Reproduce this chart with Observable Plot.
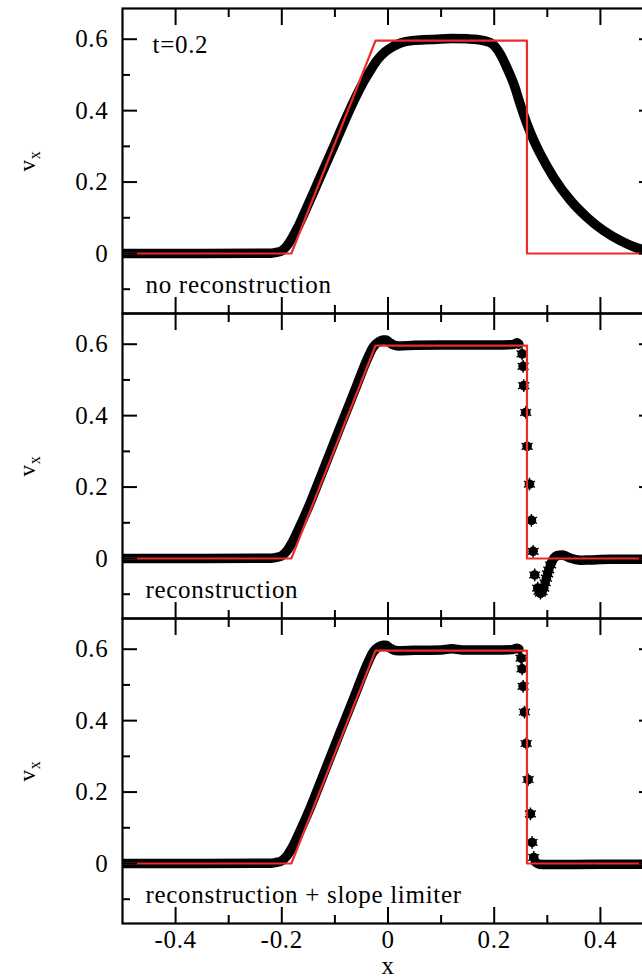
<!DOCTYPE html>
<html>
<head>
<meta charset="utf-8">
<script src="https://cdn.jsdelivr.net/npm/d3@7"></script>
<script src="https://cdn.jsdelivr.net/npm/@observablehq/plot@0.6"></script>
<style>
  html, body { margin: 0; padding: 0; background: #fff; overflow: hidden; }
  #chart { position: relative; width: 642px; height: 977px; overflow: hidden; background: #fff; }
  #chart svg { position: absolute; left: 0; }
  #chart svg text { font-family: "Liberation Serif", "Times New Roman", Times, serif; letter-spacing: 0.7px; }
</style>
</head>
<body>
<div id="chart"></div>
<script>
// Axis ticks
const xMajor = [-0.4, -0.2, 0, 0.2, 0.4];
const xMinor = [-0.3, -0.1, 0.1, 0.3];
const yMajor = [0, 0.2, 0.4, 0.6];
const yMinor = [-0.1, 0.1, 0.3, 0.5];

// Panel captions
const panelLabels = ["no reconstruction", "reconstruction", "reconstruction + slope limiter"];
const timeLabel = "t=0.2";

// Exact solution (red)
const exactX = [-0.5, -0.182, -0.0235, 0.2617, 0.2617, 0.5];
const exactV = [0, 0, 0.596, 0.596, 0, 0];

// No reconstruction: densely packed particles
const noReconX = [-0.5, -0.35, -0.22, -0.21, -0.2, -0.19, -0.18, -0.17, -0.16, -0.14, -0.12, -0.1, -0.08, -0.065, -0.05, -0.035, -0.02, -0.005, 0.01, 0.025, 0.045, 0.08, 0.12, 0.15, 0.168, 0.193, 0.212, 0.224, 0.237, 0.249, 0.262, 0.275, 0.287, 0.312, 0.344, 0.375, 0.406, 0.438, 0.475, 0.5];
const noReconV = [0, 0, 0.001, 0.003, 0.008, 0.022, 0.045, 0.073, 0.105, 0.172, 0.24, 0.307, 0.376, 0.425, 0.47, 0.508, 0.542, 0.565, 0.58, 0.59, 0.596, 0.599, 0.602, 0.601, 0.599, 0.59, 0.557, 0.52, 0.474, 0.418, 0.362, 0.315, 0.278, 0.213, 0.148, 0.101, 0.064, 0.036, 0.013, 0.006];

// Reconstruction
const reconX = [-0.5, -0.35, -0.22, -0.21, -0.2, -0.19, -0.18, -0.17, -0.15, -0.12, -0.09, -0.06, -0.04, -0.028, -0.018, -0.01, -0.004, 0.002, 0.01, 0.02, 0.05, 0.1, 0.15, 0.2, 0.235, 0.243, 0.2465];
const reconV = [0, 0, 0.001, 0.003, 0.008, 0.022, 0.046, 0.077, 0.143, 0.255, 0.368, 0.48, 0.555, 0.592, 0.606, 0.612, 0.612, 0.606, 0.598, 0.595, 0.597, 0.598, 0.598, 0.598, 0.599, 0.604, 0.6];
const reconShockX = [0.2526, 0.2545, 0.2556, 0.2594, 0.262, 0.2664, 0.2701, 0.2733, 0.2763, 0.282, 0.2845, 0.2871, 0.29, 0.2933, 0.296, 0.2984, 0.3005, 0.3027, 0.306];
const reconShockV = [0.573, 0.538, 0.484, 0.409, 0.314, 0.208, 0.107, 0.02, -0.046, -0.083, -0.092, -0.097, -0.093, -0.083, -0.068, -0.055, -0.043, -0.032, -0.018];
const reconTailX = [0.306, 0.309, 0.313, 0.3185, 0.328, 0.336, 0.3435, 0.362, 0.38, 0.42, 0.5];
const reconTailV = [-0.018, -0.008, 0.002, 0.008, 0.01, 0.006, 0.001, -0.005, -0.004, -0.002, -0.002];

// Reconstruction + slope limiter
const limX = [-0.5, -0.35, -0.22, -0.21, -0.2, -0.19, -0.18, -0.17, -0.15, -0.12, -0.09, -0.06, -0.04, -0.028, -0.018, -0.01, -0.004, 0.002, 0.01, 0.02, 0.05, 0.1, 0.12, 0.14, 0.2, 0.235, 0.243, 0.2465];
const limV = [0, 0, 0.001, 0.003, 0.008, 0.022, 0.046, 0.077, 0.143, 0.255, 0.368, 0.48, 0.555, 0.592, 0.606, 0.611, 0.611, 0.605, 0.598, 0.596, 0.597, 0.598, 0.601, 0.598, 0.598, 0.599, 0.603, 0.6];
const limShockX = [0.2507, 0.2526, 0.2545, 0.257, 0.2602, 0.2639, 0.2682, 0.2714, 0.2745];
const limShockV = [0.575, 0.545, 0.496, 0.424, 0.336, 0.235, 0.139, 0.059, 0.017];
const limTailX = [0.2776, 0.285, 0.3, 0.4, 0.5];
const limTailV = [0.004, -0.002, -0.003, -0.002, -0.002];

const zip = (xs, vs) => xs.map((x, i) => ({x, v: vs[i]}));
const exact = zip(exactX, exactV);

const FONT = "'Liberation Serif', 'Times New Roman', Times, serif";
const ML = 122, MR = 7, MT = 20, FRAME_H = 305, FRAME_TOP = 7.5;
const WIDTH = 660;

function panel({runs, cells, label, index, showTime, showX}) {
  const mb = showX ? 60 : 20;
  const marks = [];
  for (const run of runs) {
    marks.push(Plot.line(run, {x: "x", y: "v", stroke: "#000", strokeWidth: 9.5,
      strokeLinecap: "round", strokeLinejoin: "round", curve: "monotone-x", clip: true}));
  }
  if (cells.length) {
    marks.push(Plot.dot(cells, {x: "x", y: "v", r: 4.8, fill: "#000", symbol: "circle"}));
    marks.push(Plot.dot(cells, {x: "x", y: "v", r: 6, stroke: "#000", strokeWidth: 1.4, symbol: "asterisk"}));
  }
  marks.push(Plot.line(exact, {x: "x", y: "v", stroke: "#ec2b2b", strokeWidth: 2.2, clip: true}));

  // inward ticks on all four sides
  for (const anchor of ["top", "bottom"]) {
    marks.push(Plot.axisX(xMajor, {anchor, tickSize: -16, strokeWidth: 2, fill: "none", label: null}));
    marks.push(Plot.axisX(xMinor, {anchor, tickSize: -8, strokeWidth: 2, fill: "none", label: null}));
  }
  for (const anchor of ["left", "right"]) {
    marks.push(Plot.axisY(yMajor, {anchor, tickSize: -15, strokeWidth: 2, fill: "none", label: null}));
    marks.push(Plot.axisY(yMinor, {anchor, tickSize: -8, strokeWidth: 2, fill: "none", label: null}));
  }
  marks.push(Plot.axisY(yMajor, {anchor: "left", tickSize: 0, tickPadding: 14,
    tickFormat: d => String(d), label: null, fontSize: 25}));
  if (showX) {
    marks.push(Plot.axisX(xMajor, {anchor: "bottom", tickSize: 0, tickPadding: 7,
      tickFormat: d => String(d), label: null, fontSize: 25}));
    marks.push(Plot.text(["x"], {text: d => d, frameAnchor: "bottom", dy: 50,
      lineAnchor: "bottom", fontSize: 25}));
  }
  marks.push(Plot.text(["vx"], {text: d => d, frameAnchor: "left", dx: -95, rotate: -90,
    textAnchor: "middle", lineAnchor: "middle", fontSize: 23}));
  if (showTime) {
    marks.push(Plot.text([timeLabel], {text: d => d, frameAnchor: "top-left", dx: 30, dy: 44.5,
      textAnchor: "start", lineAnchor: "bottom", fontSize: 25}));
  }
  marks.push(Plot.text([label], {text: d => d, frameAnchor: "bottom-left", dx: 23, dy: -21,
    textAnchor: "start", lineAnchor: "bottom", fontSize: 25}));
  marks.push(Plot.frame({stroke: "#000", strokeWidth: 2.2}));

  const svg = Plot.plot({
    width: WIDTH,
    height: MT + FRAME_H + mb,
    marginLeft: ML, marginRight: MR, marginTop: MT, marginBottom: mb,
    x: {domain: [-0.5, 0.5]},
    y: {domain: [-0.168, 0.686]},
    style: {fontFamily: FONT, fontSize: "24px", color: "#000", background: "transparent",
      maxWidth: "none", overflow: "visible"},
    marks
  });
  svg.style.top = (FRAME_TOP + index * FRAME_H - MT) + "px";

  // v with subscript x
  d3.select(svg).selectAll("text")
    .filter(function() { return this.textContent === "vx"; })
    .each(function() {
      this.textContent = "v";
      d3.select(this).append("tspan").attr("font-size", 16).attr("dy", "0.3em").text("x");
    });
  return svg;
}

const chart = document.getElementById("chart");
chart.append(panel({
  runs: [zip(noReconX, noReconV)], cells: [],
  label: panelLabels[0], index: 0, showTime: true, showX: false
}));
chart.append(panel({
  runs: [zip(reconX, reconV), zip(reconTailX, reconTailV)], cells: zip(reconShockX, reconShockV),
  label: panelLabels[1], index: 1, showTime: false, showX: false
}));
chart.append(panel({
  runs: [zip(limX, limV), zip(limTailX, limTailV)], cells: zip(limShockX, limShockV),
  label: panelLabels[2], index: 2, showTime: false, showX: true
}));
</script>
</body>
</html>
